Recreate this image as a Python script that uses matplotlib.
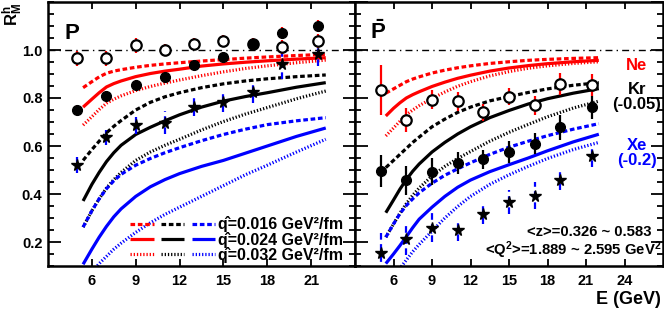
import numpy as np
import matplotlib
matplotlib.use('Agg')
import matplotlib.pyplot as plt
from matplotlib.ticker import MultipleLocator
from matplotlib.legend_handler import HandlerTuple

plt.rcParams['font.family'] = ['Liberation Sans', 'DejaVu Sans']
plt.rcParams['font.weight'] = 'bold'
plt.rcParams['mathtext.fontset'] = 'custom'
plt.rcParams['mathtext.rm'] = 'Liberation Sans:bold'
plt.rcParams['mathtext.bf'] = 'Liberation Sans:bold'
plt.rcParams['mathtext.it'] = 'Liberation Sans:bold'
plt.rcParams['mathtext.default'] = 'rm'

# ---- measured points (E in GeV) ----
e_pts = [5.0, 7.0, 9.0, 11.0, 13.0, 15.0, 17.0, 19.0, 21.5]

# proton panel
p_ne = [0.965, 0.965, 1.019, 1.0, 1.024, 1.037, 1.026, 1.012, 1.037]
p_ne_err = [0.03, 0.03, 0.03, 0.025, 0.025, 0.025, 0.025, 0.03, 0.03]
p_kr = [0.75, 0.808, 0.853, 0.887, 0.937, 0.971, 1.026, 1.072, 1.10]
p_kr_err = [0.02, 0.02, 0.02, 0.02, 0.02, 0.02, 0.02, 0.025, 0.025]
p_xe = [0.521, 0.637, 0.687, 0.697, 0.762, 0.785, 0.826, 0.94, 0.982]
p_xe_err = [0.035, 0.031, 0.035, 0.048, 0.038, 0.042, 0.045, 0.06, 0.05]

# antiproton panel (Kr shifted -0.05, Xe shifted -0.2)
pb_ne = [0.832, 0.708, 0.793, 0.786, 0.74, 0.806, 0.77, 0.858, 0.855]
pb_ne_err = [0.104, 0.05, 0.04, 0.04, 0.035, 0.035, 0.04, 0.045, 0.045]
pb_kr = [0.496, 0.457, 0.493, 0.53, 0.545, 0.575, 0.61, 0.679, 0.762]
pb_kr_err = [0.065, 0.06, 0.056, 0.045, 0.04, 0.045, 0.045, 0.052, 0.048]
pb_xe = [0.155, 0.214, 0.26, 0.249, 0.318, 0.367, 0.392, 0.457, 0.558]
pb_xe_err = [0.085, 0.07, 0.062, 0.045, 0.045, 0.05, 0.056, 0.04, 0.045]

# ---- model curves, qhat = 0.016 / 0.024 / 0.032 GeV^2/fm ----
e_th = [5.4, 6, 6.5, 7, 7.5, 8, 9, 10, 11, 12, 13.5, 15, 16.5, 18, 20, 22]

p_th = {
    'Ne': [[0.843, 0.868, 0.888, 0.903, 0.912, 0.918, 0.928, 0.936, 0.942, 0.947, 0.954, 0.960, 0.966, 0.971, 0.977, 0.982],
           [0.762, 0.795, 0.822, 0.846, 0.860, 0.871, 0.889, 0.902, 0.912, 0.920, 0.933, 0.942, 0.949, 0.955, 0.962, 0.968],
           [0.687, 0.722, 0.752, 0.778, 0.795, 0.809, 0.831, 0.848, 0.862, 0.875, 0.893, 0.909, 0.923, 0.934, 0.947, 0.958]],
    'Kr': [[0.540, 0.585, 0.620, 0.655, 0.682, 0.706, 0.750, 0.782, 0.805, 0.822, 0.843, 0.859, 0.871, 0.880, 0.889, 0.896],
           [0.371, 0.440, 0.490, 0.535, 0.572, 0.603, 0.648, 0.678, 0.705, 0.730, 0.762, 0.787, 0.806, 0.822, 0.845, 0.864],
           [0.262, 0.330, 0.380, 0.425, 0.460, 0.490, 0.540, 0.575, 0.603, 0.628, 0.667, 0.702, 0.733, 0.760, 0.797, 0.829]],
    'Xe': [[0.262, 0.330, 0.380, 0.422, 0.455, 0.482, 0.520, 0.548, 0.572, 0.593, 0.622, 0.648, 0.670, 0.689, 0.705, 0.718],
           [0.107, 0.170, 0.220, 0.265, 0.305, 0.338, 0.390, 0.430, 0.460, 0.485, 0.515, 0.540, 0.570, 0.600, 0.640, 0.675],
           [0.030, 0.075, 0.110, 0.140, 0.170, 0.195, 0.240, 0.280, 0.315, 0.345, 0.390, 0.435, 0.480, 0.520, 0.575, 0.628]],
}
pb_th = {
    'Ne': [[0.820, 0.838, 0.853, 0.868, 0.879, 0.888, 0.904, 0.916, 0.926, 0.934, 0.944, 0.951, 0.957, 0.961, 0.965, 0.968],
           [0.725, 0.757, 0.780, 0.800, 0.814, 0.826, 0.848, 0.866, 0.882, 0.895, 0.912, 0.925, 0.935, 0.943, 0.951, 0.957],
           [0.642, 0.675, 0.703, 0.730, 0.750, 0.768, 0.798, 0.825, 0.849, 0.868, 0.892, 0.910, 0.924, 0.934, 0.944, 0.951]],
    'Kr': [[0.510, 0.540, 0.565, 0.590, 0.615, 0.637, 0.680, 0.712, 0.740, 0.762, 0.788, 0.806, 0.823, 0.838, 0.853, 0.864],
           [0.322, 0.375, 0.420, 0.460, 0.495, 0.525, 0.575, 0.615, 0.650, 0.680, 0.718, 0.748, 0.775, 0.797, 0.820, 0.839],
           [0.220, 0.275, 0.320, 0.360, 0.395, 0.425, 0.475, 0.515, 0.548, 0.577, 0.620, 0.657, 0.690, 0.722, 0.758, 0.787]],
    'Xe': [[0.220, 0.275, 0.318, 0.352, 0.380, 0.405, 0.445, 0.478, 0.505, 0.530, 0.565, 0.595, 0.620, 0.643, 0.670, 0.693],
           [0.110, 0.150, 0.185, 0.222, 0.260, 0.295, 0.345, 0.390, 0.428, 0.458, 0.493, 0.522, 0.550, 0.580, 0.617, 0.649],
           [0.030, 0.060, 0.090, 0.125, 0.160, 0.190, 0.245, 0.300, 0.348, 0.390, 0.440, 0.480, 0.515, 0.548, 0.585, 0.615]],
}

qhat_labels = ['q\u0302=0.016 GeV\u00b2/fm',
               'q\u0302=0.024 GeV\u00b2/fm',
               'q\u0302=0.032 GeV\u00b2/fm']

colors = {'Ne': '#ff0000', 'Kr': 'black', 'Xe': '#0000ff'}
styles = [(0, (1.45, 0.85)), '-', (0, (0.4, 0.6))]
xe_bar_style = (0, (3, 2))


def draw_panel(ax, th, ne, ne_err, kr, kr_err, xe, xe_err, kr_ecolor, xmax, xticks):
    handles = [[], [], []]
    for nucl in ['Ne', 'Kr', 'Xe']:
        for k in range(3):
            ln, = ax.plot(e_th, th[nucl][k], color=colors[nucl], ls=styles[k], lw=2.3,
                          solid_capstyle='butt', dash_capstyle='butt')
            handles[k].append(ln)
    ax.axhline(1.0, color='black', lw=1.0, ls=(0, (5, 3, 1, 3)))

    eb = ax.errorbar(e_pts, xe, yerr=xe_err, fmt='none', ecolor='#0000ff', elinewidth=1.6)
    eb[2][0].set_linestyle(xe_bar_style)
    ax.plot(e_pts, xe, ls='none', marker='*', ms=8.5, mfc='black', mec='black')
    ax.errorbar(e_pts, ne, yerr=ne_err, fmt='o', ms=7.5, mfc='white', mec='black',
                mew=1.6, ecolor='#ff0000', elinewidth=1.6)
    ax.errorbar(e_pts, kr, yerr=kr_err, fmt='o', ms=7, mfc='black', mec='black',
                ecolor=kr_ecolor, elinewidth=1.6)

    ax.set_xlim(3, xmax)
    ax.set_ylim(0.1, 1.2)
    ax.set_xticks(xticks)
    ax.yaxis.set_major_locator(MultipleLocator(0.2))
    ax.yaxis.set_minor_locator(MultipleLocator(0.05))
    ax.tick_params(which='both', direction='in', top=True, right=True, width=1.3)
    ax.tick_params(axis='y', which='major', length=9)
    ax.tick_params(axis='y', which='minor', length=4.5)
    ax.tick_params(axis='x', which='major', length=5, pad=6, labelsize=10.5)
    ax.tick_params(axis='y', labelsize=10.5, pad=4)
    for s in ax.spines.values():
        s.set_linewidth(1.8)
    return handles


fig = plt.figure(figsize=(6.64, 3.12), dpi=100)
ax1 = fig.add_axes([48 / 664, 46 / 312, 307 / 664, 264 / 312])
ax2 = fig.add_axes([355 / 664, 46 / 312, 308 / 664, 264 / 312])

hs = draw_panel(ax1, p_th, p_ne, p_ne_err, p_kr, p_kr_err, p_xe, p_xe_err,
                '#ff0000', 24, [6, 9, 12, 15, 18, 21])
draw_panel(ax2, pb_th, pb_ne, pb_ne_err, pb_kr, pb_kr_err, pb_xe, pb_xe_err,
           'black', 27, [6, 9, 12, 15, 18, 21, 24])
ax2.set_yticklabels([])
ax1.set_yticks([0.2, 0.4, 0.6, 0.8, 1.0])
ax1.set_yticklabels(['0.2', '0.4', '0.6', '0.8', '1.0'])

ax1.legend([tuple(h) for h in hs], qhat_labels, loc='lower right',
           bbox_to_anchor=(0.962, 0.012), frameon=False, fontsize=11.5,
           handler_map={tuple: HandlerTuple(ndivide=None, pad=0.45)},
           handlelength=5.3, handletextpad=0.2, labelspacing=-0.05,
           borderpad=0.0, borderaxespad=0.0)

ax1.text(0.055, 0.86, 'P', transform=ax1.transAxes, fontsize=16, fontweight='bold')
ax2.text(0.05, 0.86, r'$\bar{P}$', transform=ax2.transAxes, fontsize=16)

ax2.text(0.915, 0.758, 'Ne', transform=ax2.transAxes, color='#ff0000', fontsize=12,
         ha='center', va='center')
ax2.text(0.915, 0.667, 'Kr', transform=ax2.transAxes, color='black', fontsize=12,
         ha='center', va='center')
ax2.text(0.915, 0.612, '(-0.05)', transform=ax2.transAxes, color='black', fontsize=12,
         ha='center', va='center')
ax2.text(0.915, 0.455, 'Xe', transform=ax2.transAxes, color='#0000ff', fontsize=12,
         ha='center', va='center')
ax2.text(0.915, 0.40, '(-0.2)', transform=ax2.transAxes, color='#0000ff', fontsize=12,
         ha='center', va='center')
ax2.text(0.963, 0.129, '<z>=0.326 ~ 0.583', transform=ax2.transAxes, fontsize=10.7,
         ha='right', va='center')
ax2.text(0.995, 0.06, r'<Q$^{2}$>=1.889 ~ 2.595 GeV$^{2}$', transform=ax2.transAxes,
         fontsize=10.7, ha='right', va='center')

fig.text(661 / 664, 1 - 300 / 312, 'E (GeV)', fontsize=13, ha='right', va='center')
fig.text(13 / 664, 0.99, r'R$_{M}^{h}$', fontsize=12, rotation=90, ha='center', va='top')

fig.savefig('out.png', dpi=100)
